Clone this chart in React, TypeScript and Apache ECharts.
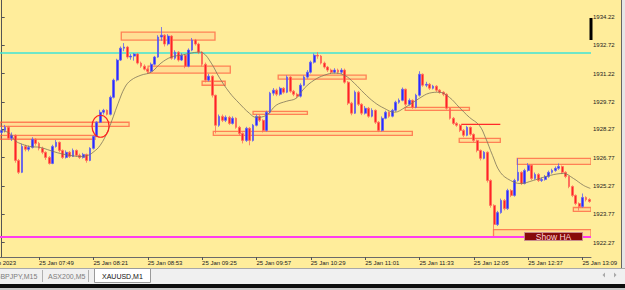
import React, { useEffect, useRef } from "react";
import * as echarts from "echarts";

// ---- data ----
const START_MIN = 7 * 60 + 27; // first candle time (2-minute candles)
const STEP_MIN = 2;

const openP = [
  1928.10, 1928.21, 1928.37, 1927.79, 1927.95, 1926.62, 1925.99, 1927.36, 1927.21, 1927.31,
  1927.74, 1927.52, 1927.26, 1927.05, 1926.78, 1926.46, 1927.36, 1927.58, 1927.15, 1926.78,
  1927.05, 1926.83, 1927.15, 1926.89, 1926.78, 1926.94, 1926.62, 1927.26, 1927.89, 1928.64,
  1929.17, 1929.27, 1929.06, 1929.96, 1930.87, 1931.93, 1932.56, 1932.62, 1932.09, 1932.14,
  1932.25, 1931.77, 1931.61, 1931.45, 1931.34, 1931.71, 1932.09, 1933.15, 1933.25, 1932.78,
  1933.20, 1932.03, 1932.35, 1931.93, 1932.19, 1931.61, 1932.46, 1932.99, 1932.78, 1932.35,
  1931.71, 1930.87, 1931.08, 1930.07, 1928.48, 1928.95, 1928.74, 1928.90, 1928.58, 1928.85,
  1928.37, 1928.05, 1927.68, 1928.32, 1927.68, 1928.48, 1928.95, 1928.74, 1928.21, 1929.17,
  1930.18, 1930.34, 1930.12, 1930.44, 1930.23, 1931.03, 1930.28, 1930.12, 1930.02, 1930.60,
  1931.03, 1931.29, 1931.82, 1932.19, 1932.14, 1931.77, 1931.56, 1931.40, 1931.29, 1931.40,
  1931.29, 1931.40, 1930.76, 1929.65, 1929.12, 1930.23, 1929.59, 1929.12, 1929.38, 1928.96,
  1929.27, 1928.64, 1928.21, 1928.85, 1929.17, 1928.96, 1929.27, 1929.70, 1929.80, 1930.39,
  1929.59, 1929.80, 1929.43, 1930.07, 1931.18, 1930.60, 1930.65, 1930.44, 1930.55, 1930.34,
  1930.23, 1930.12, 1929.38, 1928.85, 1928.58, 1928.48, 1928.21, 1927.95, 1928.37, 1928.00,
  1927.68, 1927.15, 1926.73, 1927.05, 1925.56, 1924.24, 1923.23, 1923.86, 1924.50, 1924.07,
  1925.03, 1924.77, 1925.56, 1925.99, 1925.40, 1926.09, 1926.36, 1925.67, 1925.88, 1925.56,
  1925.61, 1925.77, 1925.99, 1926.09, 1926.20, 1926.30, 1925.99, 1925.77, 1925.24, 1924.77,
  1924.34, 1924.18, 1924.66, 1924.55,
];
const closeP = [
  1928.21, 1928.37, 1927.79, 1927.95, 1926.62, 1925.99, 1927.36, 1927.21, 1927.31, 1927.74,
  1927.52, 1927.26, 1927.05, 1926.78, 1926.46, 1927.36, 1927.58, 1927.15, 1926.78, 1927.05,
  1926.83, 1927.15, 1926.89, 1926.78, 1926.94, 1926.62, 1927.26, 1927.89, 1928.64, 1929.17,
  1929.27, 1929.06, 1929.96, 1930.87, 1931.93, 1932.56, 1932.62, 1932.09, 1932.14, 1932.25,
  1931.77, 1931.61, 1931.45, 1931.34, 1931.71, 1932.09, 1933.15, 1933.25, 1932.78, 1933.20,
  1932.03, 1932.35, 1931.93, 1932.19, 1931.61, 1932.46, 1932.99, 1932.78, 1932.35, 1931.71,
  1930.87, 1931.08, 1930.07, 1928.48, 1928.95, 1928.74, 1928.90, 1928.58, 1928.85, 1928.37,
  1928.05, 1927.68, 1928.32, 1927.68, 1928.48, 1928.95, 1928.74, 1928.21, 1929.17, 1930.18,
  1930.34, 1930.12, 1930.44, 1930.23, 1931.03, 1930.28, 1930.12, 1930.02, 1930.60, 1931.03,
  1931.29, 1931.82, 1932.19, 1932.14, 1931.77, 1931.56, 1931.40, 1931.29, 1931.40, 1931.29,
  1931.40, 1930.76, 1929.65, 1929.12, 1930.23, 1929.59, 1929.12, 1929.38, 1928.96, 1929.27,
  1928.64, 1928.21, 1928.85, 1929.17, 1928.96, 1929.27, 1929.70, 1929.80, 1930.39, 1929.59,
  1929.80, 1929.43, 1930.07, 1931.18, 1930.60, 1930.65, 1930.44, 1930.55, 1930.34, 1930.23,
  1930.12, 1929.38, 1928.85, 1928.58, 1928.48, 1928.21, 1927.95, 1928.37, 1928.00, 1927.68,
  1927.15, 1926.73, 1927.05, 1925.56, 1924.24, 1923.23, 1923.86, 1924.50, 1924.07, 1925.03,
  1924.77, 1925.56, 1925.99, 1925.40, 1926.09, 1926.36, 1925.67, 1925.88, 1925.56, 1925.61,
  1925.77, 1925.99, 1926.09, 1926.20, 1926.30, 1925.99, 1925.77, 1925.24, 1924.77, 1924.34,
  1924.18, 1924.66, 1924.55, 1924.45,
];
const lowP = [
  1928.00, 1928.10, 1927.70, 1927.65, 1926.50, 1925.90, 1925.95, 1927.10, 1927.10, 1927.25,
  1927.40, 1927.15, 1926.95, 1926.65, 1926.40, 1926.42, 1927.30, 1927.05, 1926.70, 1926.72,
  1926.75, 1926.80, 1926.82, 1926.70, 1926.72, 1926.50, 1926.58, 1927.20, 1927.85, 1928.60,
  1929.05, 1929.00, 1929.00, 1929.90, 1930.80, 1931.88, 1932.40, 1932.00, 1931.95, 1931.90,
  1931.70, 1931.52, 1931.38, 1931.22, 1931.28, 1931.65, 1932.05, 1932.95, 1932.65, 1932.70,
  1931.95, 1931.95, 1931.85, 1931.88, 1931.50, 1931.55, 1932.40, 1932.70, 1932.25, 1931.60,
  1930.75, 1930.80, 1929.95, 1928.05, 1928.40, 1928.65, 1928.65, 1928.50, 1928.52, 1928.30,
  1927.95, 1927.52, 1927.60, 1927.42, 1927.62, 1928.42, 1928.65, 1928.10, 1928.15, 1929.10,
  1930.05, 1930.02, 1930.05, 1930.15, 1930.18, 1930.20, 1930.02, 1929.92, 1929.95, 1930.55,
  1930.95, 1931.22, 1931.75, 1932.00, 1931.70, 1931.48, 1931.30, 1931.20, 1931.22, 1931.20,
  1931.20, 1930.68, 1929.55, 1929.01, 1929.08, 1929.50, 1929.02, 1929.05, 1928.88, 1928.90,
  1928.55, 1928.12, 1928.15, 1928.80, 1928.88, 1928.90, 1929.20, 1929.62, 1929.75, 1929.50,
  1929.52, 1929.35, 1929.38, 1930.00, 1930.52, 1930.50, 1930.35, 1930.38, 1930.25, 1930.15,
  1930.02, 1929.30, 1928.78, 1928.50, 1928.40, 1928.12, 1927.85, 1927.90, 1927.92, 1927.58,
  1927.05, 1926.62, 1926.68, 1925.45, 1924.12, 1922.91, 1923.15, 1923.80, 1923.98, 1924.00,
  1924.68, 1924.70, 1925.50, 1925.32, 1925.35, 1926.02, 1925.58, 1925.60, 1925.48, 1925.48,
  1925.55, 1925.70, 1925.92, 1926.02, 1926.12, 1925.90, 1925.68, 1925.15, 1924.68, 1924.25,
  1923.97, 1924.12, 1924.45, 1924.38,
];
const highP = [
  1928.40, 1928.50, 1928.45, 1928.10, 1928.00, 1926.70, 1927.50, 1927.45, 1927.40, 1927.85,
  1927.80, 1927.60, 1927.35, 1927.10, 1926.85, 1927.45, 1927.70, 1927.62, 1927.20, 1927.15,
  1927.12, 1927.25, 1927.20, 1926.98, 1927.02, 1926.98, 1927.32, 1927.95, 1928.70, 1929.30,
  1929.35, 1929.32, 1930.05, 1930.95, 1932.00, 1932.65, 1932.83, 1932.68, 1932.25, 1932.30,
  1932.30, 1931.85, 1931.70, 1931.52, 1931.80, 1932.15, 1933.25, 1933.68, 1933.30, 1933.30,
  1933.25, 1932.45, 1932.40, 1932.30, 1932.25, 1932.55, 1933.10, 1933.05, 1932.85, 1932.40,
  1931.80, 1931.20, 1931.12, 1930.10, 1929.05, 1929.05, 1929.00, 1928.98, 1928.95, 1928.90,
  1928.45, 1928.10, 1928.40, 1928.38, 1928.55, 1929.05, 1929.02, 1928.80, 1929.25, 1930.25,
  1930.45, 1930.42, 1930.52, 1930.50, 1931.12, 1931.08, 1930.35, 1930.20, 1930.70, 1931.12,
  1931.40, 1931.90, 1932.28, 1932.35, 1932.20, 1931.85, 1931.62, 1931.48, 1931.50, 1931.48,
  1931.50, 1931.48, 1930.82, 1929.72, 1930.32, 1930.30, 1929.65, 1929.50, 1929.45, 1929.38,
  1929.32, 1928.70, 1928.95, 1929.25, 1929.22, 1929.35, 1929.78, 1929.90, 1930.48, 1930.42,
  1929.90, 1929.85, 1930.15, 1931.34, 1931.22, 1930.78, 1930.72, 1930.62, 1930.60, 1930.40,
  1930.28, 1930.18, 1929.42, 1928.92, 1928.65, 1928.55, 1928.28, 1928.45, 1928.42, 1928.05,
  1927.72, 1927.20, 1927.12, 1927.10, 1925.62, 1924.30, 1923.95, 1924.60, 1924.58, 1925.12,
  1925.10, 1925.65, 1926.73, 1926.05, 1926.18, 1926.48, 1926.42, 1925.98, 1925.95, 1925.72,
  1925.85, 1926.08, 1926.18, 1926.30, 1926.46, 1926.35, 1926.05, 1925.82, 1925.30, 1924.82,
  1924.40, 1924.87, 1924.72, 1924.62,
];

// moving average [candle index, price]
const maPoints = [
  [0, 1928.21], [2.4, 1928.05], [3.9, 1927.68], [5.4, 1927.52], [8.3, 1927.36], [11.3, 1927.31],
  [14.2, 1927.15], [17.2, 1926.99], [20.1, 1926.89], [23.1, 1926.83], [25.4, 1926.89], [26.9, 1927.05],
  [29, 1927.42], [31.3, 1928.21], [34.3, 1929.65], [36.3, 1930.5], [38.1, 1930.87], [41, 1931.13],
  [44, 1931.29], [46.9, 1931.77], [49.9, 1932.09], [52.8, 1932.19], [55.8, 1932.3], [57.8, 1932.35],
  [59.3, 1932.3], [61.7, 1931.77], [64, 1931.03], [67, 1930.23], [69.9, 1929.65], [72.9, 1929.12],
  [74.9, 1928.9], [77.9, 1929.01], [80.8, 1929.54], [83.8, 1929.75], [86.7, 1929.91], [89.1, 1930.44],
  [92, 1930.87], [95, 1931.13], [97.9, 1931.24], [100.9, 1931.13], [103.8, 1930.71], [106.7, 1930.18],
  [109.7, 1929.7], [112.6, 1929.38], [115.6, 1929.17], [118.8, 1929.43], [123, 1929.91], [125.9, 1930.18],
  [128.8, 1930.23], [131.8, 1929.96], [134.7, 1929.43], [137.7, 1928.9], [140.6, 1928.48], [142.4, 1927.84],
  [144.5, 1926.89], [146.8, 1925.99], [149.8, 1925.56], [152.7, 1925.4], [156.5, 1925.56], [161.5, 1925.83],
  [165.4, 1925.93], [168.3, 1925.67], [171.3, 1925.3], [173.3, 1925.14],
];

// supply / demand zones: [startIndex, endIndex, topPrice, bottomPrice]
const zones = [
  [35.2, 62.8, 1933.41, 1932.99],
  [43.1, 67.3, 1931.61, 1931.24],
  [59.0, 65.8, 1930.81, 1930.60],
  [74.0, 90.0, 1929.22, 1929.06],
  [62.3, 120.9, 1928.16, 1927.95],
  [81.4, 107.3, 1931.13, 1930.92],
  [118.8, 137.7, 1929.43, 1929.27],
  [134.7, 146.8, 1927.79, 1927.58],
  [-0.5, 37.5, 1928.64, 1928.42],
  [-0.5, 27.5, 1927.95, 1927.74],
  [151.8, 173.5, 1926.73, 1926.41],
  [168.3, 173.5, 1924.13, 1923.92],
  [144.8, 173.5, 1922.96, 1922.59],
];
// red level line: [startIndex, endIndex, price]
const redLevels = [[135.3, 146.8, 1928.53]];
// circled candle: [index, price]
const circleMarks = [[29.1, 1928.43]];

const cyanLevel = 1932.31;
const magentaLevel = 1922.59;
const priceTicks = [1922.27, 1923.77, 1925.27, 1926.77, 1928.27, 1929.72, 1931.22, 1932.72, 1934.22];
const Y_MIN = 1921.51;
const Y_MAX = 1935.11;
const FIRST_LABEL_INDEX = 11;
const LABEL_EVERY = 16;
const dateLabel = "25 Jan 2023";
const tabs = ["GBPJPY,M15", "ASX200,M5", "XAUUSD,M1"];

const categories = closeP.map((_, i) => {
  const m = START_MIN + i * STEP_MIN;
  const hh = String(Math.floor(m / 60)).padStart(2, "0");
  const mm = String(m % 60).padStart(2, "0");
  return `25 Jan ${hh}:${mm}`;
});

const FONT = "'Liberation Sans', Arial, sans-serif";

export default function App() {
  const ref = useRef<HTMLDivElement>(null);
  useEffect(() => {
    if (!ref.current) return;
    const chart = echarts.init(ref.current, null, { renderer: "svg" });
    const N = categories.length;
    const showIdx = (i: number) => i >= FIRST_LABEL_INDEX && (i - FIRST_LABEL_INDEX) % LABEL_EVERY === 0;

    const option: any = {
      animation: false,
      backgroundColor: "#ffed9b",
      grid: { left: 0, right: 34, top: 0, bottom: 33, containLabel: false },
      xAxis: [
        {
          type: "category",
          data: categories,
          boundaryGap: true,
          axisLine: { show: true, lineStyle: { color: "#6a6a6a", width: 1 } },
          axisTick: { show: true, interval: (i: number) => showIdx(i), alignWithLabel: true, length: 3, lineStyle: { color: "#555" } },
          axisLabel: {
            show: true,
            interval: (i: number) => showIdx(i),
            align: "left",
            margin: 3,
            fontSize: 6,
            fontFamily: FONT,
            color: "#222",
          },
          splitLine: { show: false },
        },
        { type: "value", min: -0.5, max: N - 0.5, show: false },
      ],
      yAxis: {
        type: "value",
        position: "right",
        min: Y_MIN,
        max: Y_MAX,
        scale: true,
        axisLine: { show: true, lineStyle: { color: "#555", width: 1 } },
        axisTick: { show: true, customValues: priceTicks, length: 3, lineStyle: { color: "#555" } },
        axisLabel: {
          show: true,
          customValues: priceTicks,
          formatter: (v: number) => v.toFixed(2),
          margin: 2,
          fontSize: 6,
          fontFamily: FONT,
          color: "#222",
        },
        splitLine: { show: false },
      },
      series: [
        {
          type: "custom",
          xAxisIndex: 1,
          yAxisIndex: 0,
          clip: true,
          z: 1,
          encode: { x: [0, 1], y: [2, 3] },
          data: zones,
          renderItem: (_p: any, api: any) => {
            const a = api.coord([api.value(0), api.value(2)]);
            const b = api.coord([api.value(1), api.value(3)]);
            return {
              type: "rect",
              shape: { x: a[0], y: a[1], width: b[0] - a[0], height: b[1] - a[1] },
              style: { fill: "rgba(255,150,110,0.16)", stroke: "rgba(255,90,60,0.72)", lineWidth: 1.3 },
            };
          },
        },
        {
          type: "candlestick",
          xAxisIndex: 0,
          yAxisIndex: 0,
          z: 3,
          barWidth: 2.3,
          data: categories.map((_, i) => [openP[i], closeP[i], lowP[i], highP[i]]),
          itemStyle: {
            color: "#2a2aff",
            color0: "#ff2323",
            borderColor: "#6060f0",
            borderColor0: "#ff6a5a",
            borderWidth: 0.8,
          },
          markLine: {
            silent: true,
            symbol: ["none", "none"],
            label: { show: false },
            z: 2,
            data: [
              { yAxis: cyanLevel, lineStyle: { color: "#3fe3d6", width: 1.5, type: "solid" } },
              { yAxis: magentaLevel, lineStyle: { color: "#ff3cf0", width: 2, type: "solid" } },
            ],
          },
        },
        {
          type: "line",
          xAxisIndex: 1,
          yAxisIndex: 0,
          z: 4,
          data: maPoints,
          smooth: 0.4,
          showSymbol: false,
          symbol: "none",
          lineStyle: { color: "#7d745a", width: 0.8 },
        },
        {
          type: "custom",
          xAxisIndex: 1,
          yAxisIndex: 0,
          z: 5,
          encode: { x: [0, 1], y: 2 },
          data: redLevels,
          renderItem: (_p: any, api: any) => {
            const a = api.coord([api.value(0), api.value(2)]);
            const b = api.coord([api.value(1), api.value(2)]);
            return {
              type: "line",
              shape: { x1: a[0], y1: a[1], x2: b[0], y2: b[1] },
              style: { stroke: "#ff2a2a", lineWidth: 1.3 },
            };
          },
        },
        {
          type: "custom",
          xAxisIndex: 1,
          yAxisIndex: 0,
          z: 6,
          encode: { x: 0, y: 1 },
          data: circleMarks,
          renderItem: (_p: any, api: any) => {
            const c = api.coord([api.value(0), api.value(1)]);
            return {
              type: "ellipse",
              shape: { cx: c[0], cy: c[1], rx: 8.5, ry: 11 },
              style: { fill: "none", stroke: "#ff2020", lineWidth: 1.2 },
            };
          },
        },
      ],
      graphic: [
        // first (cut-off) date label
        { type: "text", x: 16, y: 260, style: { text: dateLabel, align: "right", verticalAlign: "top", fontSize: 6, fontFamily: FONT, fill: "#222" } },
        // marker on price axis
        { type: "rect", shape: { x: 589.5, y: 18, width: 3, height: 22 }, style: { fill: "#000" }, z: 50 },
        // right strip
        { type: "rect", shape: { x: 621, y: 0, width: 4, height: 268 }, style: { fill: "#e6e6e6" }, z: 50 },
        { type: "line", shape: { x1: 621.5, y1: 0, x2: 621.5, y2: 268 }, style: { stroke: "#666", lineWidth: 1 }, z: 51 },
        // tab bar
        { type: "rect", shape: { x: 0, y: 268, width: 625, height: 16 }, style: { fill: "#f0f0f0" }, z: 50 },
        { type: "line", shape: { x1: 0, y1: 268.5, x2: 625, y2: 268.5 }, style: { stroke: "#a8a8a8", lineWidth: 1 }, z: 51 },
        { type: "rect", shape: { x: 94.5, y: 268.5, width: 56, height: 14 }, style: { fill: "#ffffff", stroke: "#9a9a9a", lineWidth: 1 }, z: 52 },
        { type: "line", shape: { x1: 42.5, y1: 270, x2: 42.5, y2: 282 }, style: { stroke: "#b0b0b0", lineWidth: 1 }, z: 51 },
        { type: "line", shape: { x1: 88.5, y1: 270, x2: 88.5, y2: 282 }, style: { stroke: "#b0b0b0", lineWidth: 1 }, z: 51 },
        { type: "text", x: -5, y: 276, style: { text: tabs[0], verticalAlign: "middle", fontSize: 7, fontFamily: FONT, fill: "#7c7c7c" }, z: 53 },
        { type: "text", x: 48, y: 276, style: { text: tabs[1], verticalAlign: "middle", fontSize: 7, fontFamily: FONT, fill: "#7c7c7c" }, z: 53 },
        { type: "text", x: 102, y: 276, style: { text: tabs[2], verticalAlign: "middle", fontSize: 7, fontFamily: FONT, fill: "#111" }, z: 53 },
        { type: "polygon", shape: { points: [[605, 272.5], [605, 277.5], [602.5, 275]] }, style: { fill: "#a8a8a8" }, z: 53 },
        { type: "polygon", shape: { points: [[614, 272.5], [614, 277.5], [616.5, 275]] }, style: { fill: "#a8a8a8" }, z: 53 },
        { type: "rect", shape: { x: 0, y: 284, width: 625, height: 4 }, style: { fill: "#0d0d0d" }, z: 50 },
        { type: "rect", shape: { x: 0, y: 288, width: 625, height: 2 }, style: { fill: "#c8c8c8" }, z: 50 },
        // Show HA button
        { type: "rect", shape: { x: 524.5, y: 232.5, width: 58, height: 8 }, style: { fill: "#870a0a", stroke: "#c88c8c", lineWidth: 1 }, z: 60 },
        { type: "text", x: 553.5, y: 237, style: { text: "Show HA", align: "center", verticalAlign: "middle", fontSize: 8.5, fontFamily: FONT, fill: "#ffd6d6" }, z: 61 },
      ],
    };
    chart.setOption(option);
    return () => chart.dispose();
  }, []);

  return (
    <div
      ref={ref}
      style={{ position: "fixed", left: 0, top: 0, width: 625, height: 290 }}
    />
  );
}
